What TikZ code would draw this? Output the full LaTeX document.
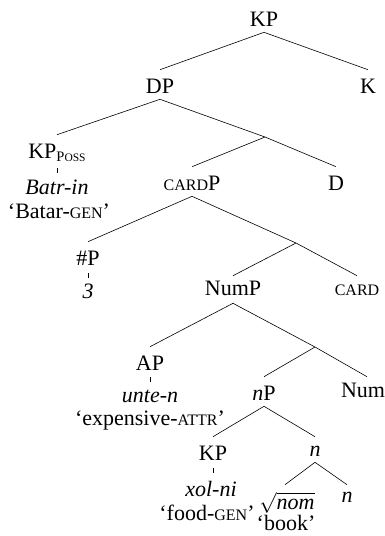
\documentclass[tikz,border=0pt]{standalone}
\usepackage{fontspec}
\setmainfont{Liberation Serif}
% small capitals made from reduced capitals
\newcommand\smc[1]{{\fontsize{16}{18}\selectfont #1}}
\newcommand\subsc{{\fontsize{14.5}{16}\selectfont P}{\fontsize{11.5}{13}\selectfont OSS}}
\begin{document}
\begin{tikzpicture}[x=1pt,y=-1pt,
  lab/.style={anchor=base, inner xsep=0pt, inner ysep=6pt, text height=17pt, text depth=0pt,
              font=\fontsize{22}{25}\selectfont},
  word/.style={anchor=base, inner sep=0pt, font=\fontsize{22}{25}\selectfont},
  every path/.style={line width=0.6pt}]
\useasboundingbox (0,0) rectangle (385,536);

% category labels
\node[lab] (kp)     at (264,26)  {KP};
\node[lab] (dp)     at (160,93)  {DP};
\node[lab] (k)      at (368,93)  {K};
\node[lab] (kpposs) at (57,158)  {KP\raisebox{-3.5pt}{\subsc}};
\node[lab] (cardp)  at (192,190) {\smc{CARD}P};
\node[lab] (d)      at (336,190) {D};
\node[lab] (hashp)  at (88,265)  {\#P};
\node[lab] (nump)   at (233,295) {NumP};
\node[lab] (card)   at (357,295) {\smc{CARD}};
\node[lab] (ap)     at (150,370) {AP};
\node[lab] (np)     at (264,400) {\textit{n}P};
\node[lab] (num)    at (363,397) {Num};
\node[lab] (kpb)    at (213,460) {KP};
\node[lab] (nb)     at (315,456) {\textit{n}};
\node[lab] (nom)    at (287,509) {$\sqrt{\hbox{\itshape nom}}$};
\node[lab] (nc)     at (347,502) {\textit{n}};

% words and glosses
\node[word] (batr)  at (57,194)  {\textit{Batr-in}};
\node[word] (batgl) at (59,218)  {‘Batar-\smc{GEN}’};
\node[word] (three) at (88,298)  {\textit{3}};
\node[word] (unte)  at (150,402) {\textit{unte-n}};
\node[word] (expgl) at (150,425) {‘expensive-\smc{ATTR}’};
\node[word] (xol)   at (211,496) {\textit{xol-ni}};
\node[word] (foodgl) at (207,520) {‘food-\smc{GEN}’};
\node[word] (book)  at (286,530.5) {‘book’};

% unlabeled intermediate projections
\coordinate (dbar) at (265,137);
\coordinate (cbar) at (296,243);
\coordinate (nbar) at (315,347);

% branches
\draw (kp.south) -- (dp.north);
\draw (kp.south) -- (k.north);
\draw (dp.south) -- (kpposs.north);
\draw (dp.south) -- (dbar) -- (d.north);
\draw (dbar) -- (cardp.north);
\draw (cardp.south) -- (hashp.north);
\draw (cardp.south) -- (cbar) -- ([yshift=-4pt]card.north);
\draw (cbar) -- ([yshift=-4pt]nump.north);
\draw ([yshift=-2pt]nump.south) -- (ap.north);
\draw ([yshift=-2pt]nump.south) -- (nbar) -- ([xshift=4pt,yshift=-3pt]num.north);
\draw (nbar) -- (np.north);
\draw (np.south) -- (kpb.north);
\draw (np.south) -- ([yshift=-4pt]nb.north);
\draw (nb.south) -- ([xshift=-2pt,yshift=1pt]nom.north);
\draw (nb.south) -- ([yshift=-6pt]nc.north);

% ticks joining labels to their words
\draw ([yshift=-4pt]kpposs.south) -- ++(0,5);
\draw ([yshift=-2pt]hashp.south) -- ++(0,5);
\draw ([yshift=-1pt]ap.south) -- ++(0,5);
\draw ([yshift=-2pt]kpb.south) -- ++(0,5);
\end{tikzpicture}
\end{document}
